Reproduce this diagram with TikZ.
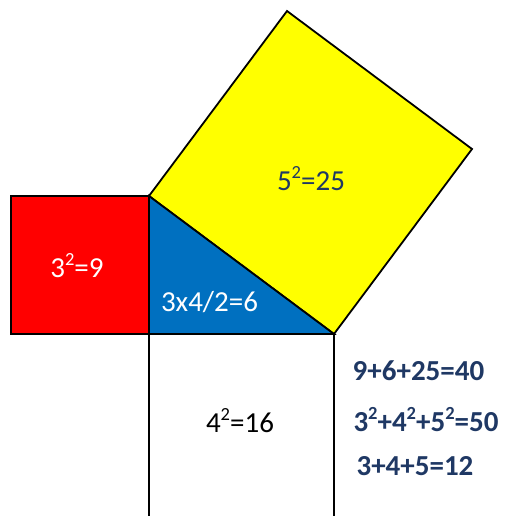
\documentclass[tikz,border=0pt]{standalone}
\usepackage{fontspec}
\setmainfont{Carlito}
\definecolor{navy}{RGB}{31,56,100}
\definecolor{myblue}{RGB}{0,112,192}
\definecolor{myyellow}{RGB}{255,255,0}
\definecolor{myred}{RGB}{255,0,0}
\newcommand{\sqtwo}{\raisebox{0.41em}{\fontsize{18.5}{18}\selectfont 2}}
\begin{document}
\begin{tikzpicture}[x=1pt,y=-1pt,
  edge/.style={line width=1.8pt,line join=miter},
  lbl/.style={anchor=base,inner sep=0pt,font=\fontsize{29}{34}\selectfont},
  bold/.style={lbl,font=\fontsize{29}{34}\selectfont\bfseries,text=navy}]
\useasboundingbox (0,0) rectangle (504,516);
% vertices
\coordinate (A) at (149,196);
\coordinate (B) at (149,334);
\coordinate (C) at (334,334);
\coordinate (Y1) at (287,11);
\coordinate (Y2) at (472,149);
\coordinate (R1) at (11,196);
\coordinate (R2) at (11,334);
\coordinate (W1) at (149,516);
\coordinate (W2) at (334,516);
% yellow square
\filldraw[edge,fill=myyellow] (A) -- (Y1) -- (Y2) -- (C) -- cycle;
% blue triangle
\filldraw[edge,fill=myblue] (A) -- (B) -- (C) -- cycle;
% red square
\filldraw[edge,fill=myred] (R1) -- (A) -- (B) -- (R2) -- cycle;
% white square
\draw[edge] (W1) -- (B) -- (C) -- (W2);
% labels
\node[lbl,text=white] (t9) at (77,277) {3\sqtwo=9};
\node[lbl,text=white] (t6) at (209.5,311) {3x4/2=6};
\node[lbl,text=navy] (t25) at (311,190) {5\sqtwo=25};
\node[lbl,text=black] (t16) at (240,432) {4\sqtwo=16};
\node[bold] (s1) at (418.5,380) {9+6+25=40};
\node[bold] (s2) at (426,431) {3\sqtwo+4\sqtwo+5\sqtwo=50};
\node[bold] (s3) at (415,475) {3+4+5=12};
\end{tikzpicture}
\end{document}
